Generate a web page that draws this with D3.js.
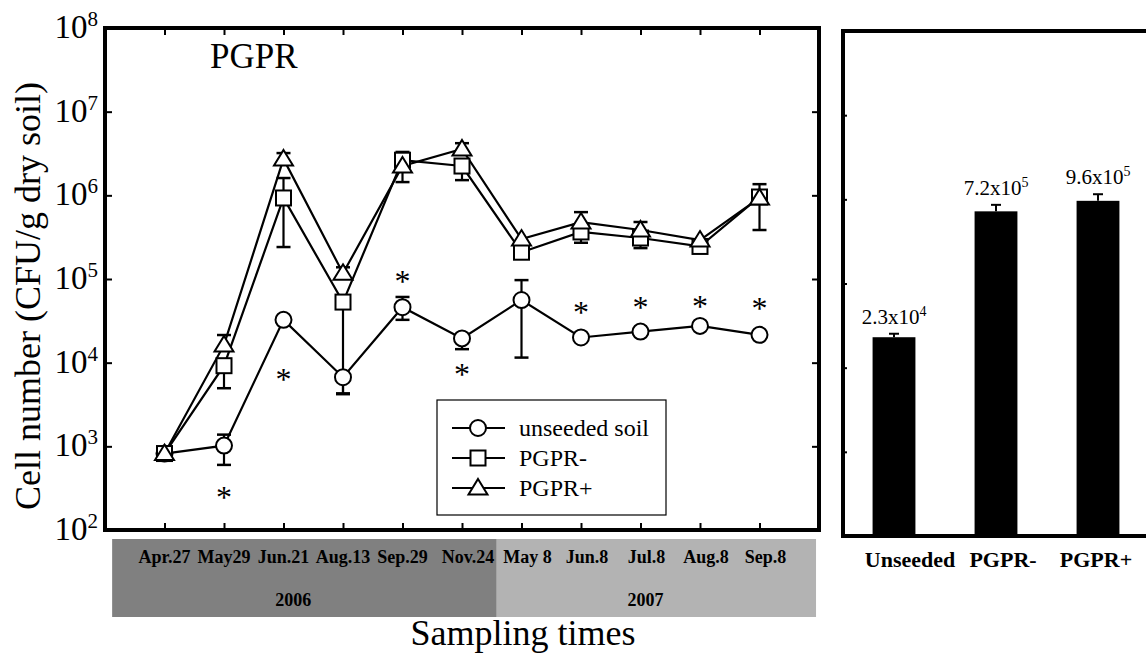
<!DOCTYPE html>
<html>
<head>
<meta charset="utf-8">
<script src="https://cdn.jsdelivr.net/npm/d3@7"></script>
<style>
  body { margin: 0; background: #fff; }
  svg { display: block; font-family: "Liberation Serif", "Times New Roman", serif; }
</style>
</head>
<body>
<svg width="1146" height="669"></svg>
<script>
// ---- data ----
const dates = ['Apr.27', 'May29', 'Jun.21', 'Aug.13', 'Sep.29', 'Nov.24', 'May 8', 'Jun.8', 'Jul.8', 'Aug.8', 'Sep.8'];

const unseeded   = [820, 1020, 32500, 6700, 46000, 19500, 56000, 20000, 23500, 27500, 21500];
const unseededLo = [null, 600, null, 4200, 32500, 14500, 11500, null, null, null, null];
const unseededHi = [null, 1380, null, null, 61000, null, 97000, null, null, null, null];

const pgprMinus   = [820, 9200, 930000, 53000, 2630000, 2240000, 209000, 365000, 309000, 245000, 955000];
const pgprMinusLo = [null, 4950, 241000, 4300, null, 1520000, null, 271000, 234000, null, 385000];
const pgprMinusHi = [null, null, 1610000, null, 3300000, null, null, null, null, null, 1360000];

const pgprPlus   = [820, 16300, 2720000, 117000, 2240000, 3580000, 300000, 479000, 385000, 292000, 930000];
const pgprPlusLo = [null, null, null, null, 1440000, null, null, null, null, null, null];
const pgprPlusHi = [null, 21400, 3200000, 138000, null, 4200000, null, 630000, 480000, null, null];

const seriesNames = ['unseeded soil', 'PGPR-', 'PGPR+'];
const seriesShapes = ['circle', 'square', 'triangle'];

const starDates  = ['May29', 'Jun.21', 'Sep.29', 'Nov.24', 'Jun.8', 'Jul.8', 'Aug.8', 'Sep.8'];
const starValues = [277, 7100, 106000, 8200, 45000, 51600, 53000, 50000];

const years      = ['2006', '2007'];
const yearFirst  = ['Apr.27', 'May 8'];
const yearLast   = ['Nov.24', 'Sep.8'];
const yearColors = ['#808080', '#b3b3b3'];

const yTicks = [1e2, 1e3, 1e4, 1e5, 1e6, 1e7, 1e8];

const barCats   = ['Unseeded', 'PGPR-', 'PGPR+'];
const barValues = [2.3e4, 7.2e5, 9.6e5];
const barErrHi  = [2.53e4, 8.6e5, 1.15e6];

// ---- setup ----
const svg = d3.select('svg');
const left = { x0: 105, x1: 819, y0: 28, y1: 530 };
const right = { x0: 843, x1: 1149, y0: 31, y1: 536 };

const x = d3.scalePoint().domain(dates).range([left.x0, left.x1]).padding(1);
const y = d3.scaleLog().domain([1e2, 1e8]).range([left.y1, left.y0]);

// ---- left panel: date band under the axis ----
const step = x.step();
const bandTop = 539, bandBottom = 617;
years.forEach((yr, i) => {
  const bx0 = i === 0 ? x(yearFirst[i]) - 0.88 * step : (x(yearLast[i - 1]) + x(yearFirst[i])) / 2 + 5;
  const bx1 = i === years.length - 1 ? x(yearLast[i]) + 0.95 * step : (x(yearLast[i]) + x(yearFirst[i + 1])) / 2 + 5;
  svg.append('rect')
    .attr('x', bx0).attr('y', bandTop)
    .attr('width', bx1 - bx0).attr('height', bandBottom - bandTop)
    .attr('fill', yearColors[i]);
  const mid = (x(yearFirst[i]) + x(yearLast[i])) / 2 + (i === 0 ? -20 : 5);
  svg.append('text')
    .attr('x', mid).attr('y', 606)
    .attr('text-anchor', 'middle')
    .attr('font-weight', 'bold').attr('font-size', 18)
    .text(yr);
});

svg.append('g').selectAll('text').data(dates).join('text')
  .attr('x', d => x(d) + (x.domain().indexOf(d) >= 5 ? 6 : 0))
  .attr('y', 563)
  .attr('text-anchor', 'middle')
  .attr('font-weight', 'bold').attr('font-size', 18)
  .text(d => d);

// ---- left panel: axes (inward ticks) ----
const tickStyle = g => {
  g.select('.domain').remove();
  g.selectAll('.tick line').attr('stroke', '#000').attr('stroke-width', 2);
  g.selectAll('.tick text').remove();
};
svg.append('g').attr('transform', `translate(0,${left.y1})`)
  .call(d3.axisBottom(x).tickSize(-7)).call(tickStyle);
svg.append('g').attr('transform', `translate(0,${left.y0})`)
  .call(d3.axisTop(x).tickSize(-7)).call(tickStyle);
svg.append('g').attr('transform', `translate(${left.x0},0)`)
  .call(d3.axisLeft(y).tickValues(yTicks).tickSize(-7)).call(tickStyle);
svg.append('g').attr('transform', `translate(${left.x1},0)`)
  .call(d3.axisRight(y).tickValues(yTicks).tickSize(-7)).call(tickStyle);

svg.append('rect')
  .attr('x', left.x0).attr('y', left.y0)
  .attr('width', left.x1 - left.x0).attr('height', left.y1 - left.y0)
  .attr('fill', 'none').attr('stroke', '#000').attr('stroke-width', 4);

// y tick labels 10^n
const yLab = svg.append('g').selectAll('text').data(yTicks).join('text')
  .attr('x', 98).attr('y', d => y(d) + 10)
  .attr('text-anchor', 'end')
  .attr('font-size', 33);
yLab.append('tspan').text('10');
yLab.append('tspan').attr('dy', -12).attr('font-size', 21).text(d => Math.round(Math.log10(d)));

svg.append('text')
  .attr('transform', `translate(40,${(left.y0 + left.y1) / 2 + 17}) rotate(-90)`)
  .attr('text-anchor', 'middle')
  .attr('font-size', 36)
  .text('Cell number (CFU/g dry soil)');

svg.append('text')
  .attr('x', 523).attr('y', 645)
  .attr('text-anchor', 'middle')
  .attr('font-size', 36)
  .text('Sampling times');

svg.append('text')
  .attr('x', 210).attr('y', 68)
  .attr('font-size', 35)
  .text('PGPR');

// ---- left panel: series ----
const series = [
  { name: seriesNames[0], shape: seriesShapes[0], v: unseeded, lo: unseededLo, hi: unseededHi },
  { name: seriesNames[1], shape: seriesShapes[1], v: pgprMinus, lo: pgprMinusLo, hi: pgprMinusHi },
  { name: seriesNames[2], shape: seriesShapes[2], v: pgprPlus, lo: pgprPlusLo, hi: pgprPlusHi }
];

const drawMarker = (g, shape, cx, cy) => {
  const common = s => s.attr('fill', '#fff').attr('stroke', '#000').attr('stroke-width', 2);
  if (shape === 'circle') {
    g.append('circle').attr('cx', cx).attr('cy', cy).attr('r', 8).call(common);
  } else if (shape === 'square') {
    g.append('rect').attr('x', cx - 7.5).attr('y', cy - 7.5).attr('width', 15).attr('height', 15).call(common);
  } else {
    g.append('path')
      .attr('d', `M${cx},${cy - 9}L${cx + 9.5},${cy + 6.5}L${cx - 9.5},${cy + 6.5}Z`)
      .call(common);
  }
};

const line = d3.line().x(d => x(d.date)).y(d => y(d.val));
const plotG = svg.append('g');

series.forEach(s => {
  const pts = dates.map((d, i) => ({ date: d, val: s.v[i] }));
  plotG.append('path')
    .attr('d', line(pts))
    .attr('fill', 'none').attr('stroke', '#000').attr('stroke-width', 2.2);
});

series.forEach(s => {
  dates.forEach((d, i) => {
    [s.lo[i], s.hi[i]].forEach(e => {
      if (e == null) return;
      plotG.append('line')
        .attr('x1', x(d)).attr('x2', x(d))
        .attr('y1', y(s.v[i])).attr('y2', y(e))
        .attr('stroke', '#000').attr('stroke-width', 2.2);
      plotG.append('line')
        .attr('x1', x(d) - 7).attr('x2', x(d) + 7)
        .attr('y1', y(e)).attr('y2', y(e))
        .attr('stroke', '#000').attr('stroke-width', 2.5);
    });
  });
});

series.forEach(s => {
  dates.forEach((d, i) => drawMarker(plotG, s.shape, x(d), y(s.v[i])));
});

// significance asterisks
svg.append('g').selectAll('text').data(starDates).join('text')
  .attr('x', d => x(d))
  .attr('y', (d, i) => y(starValues[i]) + 15)
  .attr('text-anchor', 'middle')
  .attr('font-size', 32)
  .text('*');

// legend
const lg = svg.append('g');
lg.append('rect')
  .attr('x', 437).attr('y', 400).attr('width', 229).attr('height', 115)
  .attr('fill', '#fff').attr('stroke', '#000').attr('stroke-width', 1.2);
series.forEach((s, i) => {
  const cy = 428 + i * 30;
  lg.append('line').attr('x1', 452).attr('x2', 505).attr('y1', cy).attr('y2', cy)
    .attr('stroke', '#000').attr('stroke-width', 2.2);
  drawMarker(lg, s.shape, 478, cy);
  lg.append('text').attr('x', 519).attr('y', cy + 8)
    .attr('font-size', 24).text(s.name);
});

// ---- right panel: bar chart ----
const xb = d3.scaleBand().domain(barCats).range([right.x0, right.x1])
  .paddingInner(0.58).paddingOuter(0.29);
const yb = d3.scaleLog().domain([1e2, 1e8]).range([right.y1, right.y0]);

const rg = svg.append('g');
rg.selectAll('rect.bar').data(barCats).join('rect')
  .attr('class', 'bar')
  .attr('x', d => xb(d))
  .attr('y', (d, i) => yb(barValues[i]))
  .attr('width', xb.bandwidth())
  .attr('height', (d, i) => right.y1 - yb(barValues[i]))
  .attr('fill', '#000');

barCats.forEach((c, i) => {
  const cx = xb(c) + xb.bandwidth() / 2;
  rg.append('line').attr('x1', cx).attr('x2', cx)
    .attr('y1', yb(barValues[i])).attr('y2', yb(barErrHi[i]))
    .attr('stroke', '#000').attr('stroke-width', 2);
  rg.append('line').attr('x1', cx - 5).attr('x2', cx + 5)
    .attr('y1', yb(barErrHi[i])).attr('y2', yb(barErrHi[i]))
    .attr('stroke', '#000').attr('stroke-width', 2);
  const ex = Math.floor(Math.log10(barValues[i]));
  const mant = (barValues[i] / Math.pow(10, ex)).toFixed(1);
  const t = rg.append('text')
    .attr('x', cx).attr('y', yb(barErrHi[i]) - 10)
    .attr('text-anchor', 'middle')
    .attr('font-size', 21);
  t.append('tspan').text(`${mant}x10`);
  t.append('tspan').attr('dy', -8).attr('font-size', 14).text(ex);
});

rg.append('g').attr('transform', `translate(${right.x0},0)`)
  .call(d3.axisLeft(yb).tickValues(yTicks).tickSize(-4)).call(tickStyle);

rg.append('rect')
  .attr('x', right.x0).attr('y', right.y0)
  .attr('width', right.x1 + 20 - right.x0).attr('height', right.y1 - right.y0)
  .attr('fill', 'none').attr('stroke', '#000').attr('stroke-width', 4);

const xbLab = d3.scalePoint().domain(barCats).range([910, 1096]);
rg.selectAll('text.cat').data(barCats).join('text')
  .attr('class', 'cat')
  .attr('x', d => xbLab(d)).attr('y', 567)
  .attr('text-anchor', 'middle')
  .attr('font-weight', 'bold').attr('font-size', 22)
  .text(d => d);
</script>
</body>
</html>
